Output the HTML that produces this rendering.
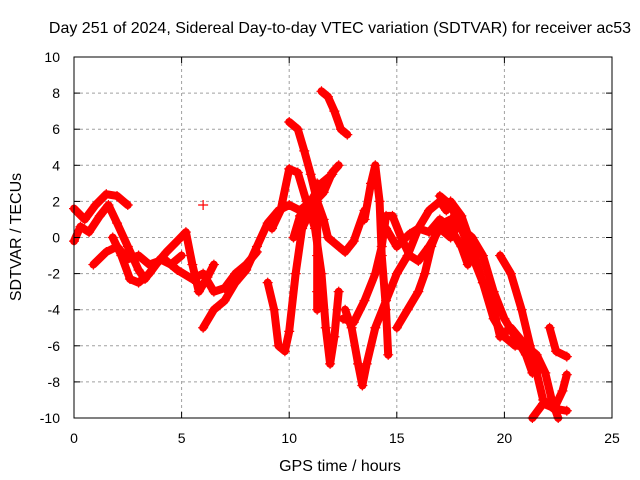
<!DOCTYPE html>
<html><head><meta charset="utf-8"><style>
body{margin:0;background:#fff}
svg{display:block;font-family:"Liberation Sans",sans-serif}
</style></head><body>
<svg id="chart" width="640" height="480">
<rect width="640" height="480" fill="#fff"/>
<g id="grid"></g>
<g id="series"></g>
<rect x="74" y="57" width="538" height="361" fill="none" stroke="#000" stroke-width="1"/>
<g id="axes"></g>
<text x="340" y="33" text-anchor="middle" font-size="16">Day 251 of 2024, Sidereal Day-to-day VTEC variation (SDTVAR) for receiver ac53</text>
<text x="340" y="471" text-anchor="middle" font-size="16">GPS time / hours</text>
<text x="21" y="237" text-anchor="middle" font-size="16" transform="rotate(-90 21 237)">SDTVAR / TECUs</text>
</svg>
<script>
const xTicks=[0,5,10,15,20,25];
const yTicks=[-10,-8,-6,-4,-2,0,2,4,6,8,10];
const trA=[[0,1.6],[0.5,1.0],[1.0,1.8],[1.5,2.4],[2.0,2.3],[2.5,1.8]];
const trB=[[0,-0.2],[0.3,0.6],[0.7,0.3],[1.2,1.2],[1.6,1.8],[2.0,0.8],[2.5,-0.5],[3.0,-1.8],[3.3,-2.3],[3.8,-1.5],[4.3,-0.8],[4.8,-0.2],[5.2,0.3],[5.5,-1.5],[5.8,-3],[6.2,-2.2],[6.5,-1.5]];
const trC=[[0.9,-1.5],[1.5,-0.8],[2.0,-0.5],[2.5,-1.2],[3.0,-1.0],[3.5,-1.5],[4.2,-1.2],[4.8,-1.8],[5.5,-2.3],[6.0,-2.0],[6.5,-3.0],[7.0,-2.8],[7.5,-2.0],[8.0,-1.5],[8.5,-0.8]];
const trD=[[1.8,0],[2.2,-1],[2.6,-2.3],[3.0,-2.5],[3.5,-2],[4.0,-1.2],[4.5,-1.5],[5.0,-1.0]];
const trE=[[6.0,-5.0],[6.5,-4.0],[7.0,-3.5],[7.5,-2.5],[8.0,-1.8],[8.5,-0.5],[9.0,0.8],[9.5,1.5],[10,1.8],[10.5,1.5],[11,2.0],[11.5,3.0],[12,3.5]];
const trF=[[9.0,-2.5],[9.3,-4],[9.5,-6],[9.8,-6.3],[10.0,-5.2],[10.3,-2],[10.6,0.5],[11,1.5]];
const trG=[[9.2,0.5],[9.6,1.5],[10,3.8],[10.4,3.6],[10.8,2],[11.2,0.5],[11.5,-2],[11.7,-5],[11.9,-7],[12.1,-5.5],[12.3,-3]];
const trH=[[10.0,6.4],[10.4,6.0],[10.7,4.8],[11.0,3.5],[11.3,2.0],[11.6,1.0],[11.8,0],[12.3,-0.5],[12.6,-0.8],[13,-0.2],[13.5,1.5]];
const trI=[[11.5,8.1],[11.8,7.8],[12.1,7],[12.4,6.0],[12.7,5.7]];
const trJ=[[10.2,0],[10.5,1.2],[10.8,1.3],[11.2,2.0],[11.6,2.5],[12.0,3.6],[12.3,4.0]];
const trK=[[12.6,-4],[12.9,-5],[13.2,-7],[13.4,-8.2],[13.6,-7],[14,-5],[14.5,-3.5],[15,-2],[15.5,-1],[16.0,0.5],[16.5,1.5],[17,2],[17.3,1.5]];
const trL=[[12.5,-4.5],[13,-4.7],[13.5,-3.5],[14,-2],[14.3,-0.5],[14.5,1.2],[14.8,1.2],[15.2,0],[15.6,-1],[16,-1.3],[16.5,-0.5],[17,0.5],[17.5,0],[18,1.0]];
const trM=[[15.0,-5],[15.5,-4],[16,-3],[16.3,-2],[16.6,-0.5],[17,0.7],[17.5,1.0],[18,0.5],[18.5,0],[19,-1],[19.5,-3],[20,-4.5],[20.5,-5.5],[21,-6.5],[21.3,-7.5]];
const trN=[[17,2.3],[17.5,1.8],[18,0.5],[18.5,-1],[19,-2.5],[19.5,-4.5],[20,-5.5],[20.5,-6],[21,-6],[21.5,-6.5],[21.9,-7.5],[22.2,-9],[22.5,-10]];
const trO=[[17.5,2],[18,1.2],[18.5,-0.5],[19,-2.5],[19.5,-4],[19.8,-5.5],[20.3,-5],[21,-6]];
const trP=[[19.8,-1],[20.3,-2],[20.8,-4],[21.2,-6],[21.5,-7.5],[21.8,-9],[22.3,-9.5],[22.7,-8.5],[22.9,-7.6]];
const trP2=[[21.3,-10],[21.8,-9.2],[22.4,-9.5],[22.9,-9.6]];
const trQ=[[22.1,-5],[22.4,-6.3],[22.9,-6.6]];
const trR=[[14.5,0.5],[15,-0.5],[15.6,0.2],[16,0.5],[16.5,0.3],[17,1],[17.5,0.5],[18,-0.5],[18.3,-1.5]];
const trS=[[11.3,3],[11.3,1],[11.3,-1],[11.3,-3],[11.3,-4]];
const trT=[[13.5,1],[13.8,3],[14,4],[14.2,2],[14.3,-1],[14.5,-4],[14.6,-6.5]];
const trU=[[6.0,1.8]];
const traces=[trA,trB,trC,trD,trE,trF,trG,trH,trI,trJ,trK,trL,trM,trN,trO,trP,trP2,trQ,trR,trS,trT,trU];
const X0=74,X1=612,Y0=418,Y1=57;
function sx(t){return X0+(t-0)/(25-0)*(X1-X0);}
function sy(v){return Y0-(v+10)/20*(Y0-Y1);}
const NS="http://www.w3.org/2000/svg";
function mk(tag,attrs,parent){const e=document.createElementNS(NS,tag);for(const k in attrs)e.setAttribute(k,attrs[k]);parent.appendChild(e);return e;}
const grid=document.getElementById('grid'),axes=document.getElementById('axes'),ser=document.getElementById('series');
xTicks.forEach(t=>{const x=sx(t);
 if(t>0&&t<25){const g=mk('line',{x1:x,x2:x,y1:Y1,y2:Y0,stroke:'#a0a0a0','stroke-dasharray':'3,3'},grid);
 
 }
 mk('line',{x1:x,x2:x,y1:Y0,y2:Y0-6,stroke:'#000'},axes);
 mk('line',{x1:x,x2:x,y1:Y1,y2:Y1+6,stroke:'#000'},axes);
 const l=mk('text',{x:x,y:443,'text-anchor':'middle','font-size':'14'},axes);l.textContent=t;
 
 
});
yTicks.forEach(v=>{const y=sy(v);
 if(v>-10&&v<10){const g=mk('line',{x1:X0,x2:X1,y1:y,y2:y,stroke:'#a0a0a0','stroke-dasharray':'3,3'},grid);
 
 }
 mk('line',{x1:X0,x2:X0+6,y1:y,y2:y,stroke:'#000'},axes);
 mk('line',{x1:X1,x2:X1-6,y1:y,y2:y,stroke:'#000'},axes);
 const l=mk('text',{x:60,y:y+5,'text-anchor':'end','font-size':'14'},axes);l.textContent=v;
 
 
});
traces.forEach(tr=>{
 const pts=tr.map(p=>sx(p[0])+','+sy(p[1])).join(' ');
 if(tr.length>1){const pl=mk('polyline',{points:pts,fill:'none',stroke:'#ff0000','stroke-width':'8','stroke-linejoin':'round','stroke-linecap':'round'},ser);
 
 }
 tr.forEach(p=>{const x=sx(p[0]),y=sy(p[1]);
  const m=mk('path',{d:`M${x-5},${y}H${x+5}M${x},${y-5}V${y+5}`,stroke:'#ff0000','stroke-width':'1.2'},ser);
  
  
 });
});
</script>
</body></html>
